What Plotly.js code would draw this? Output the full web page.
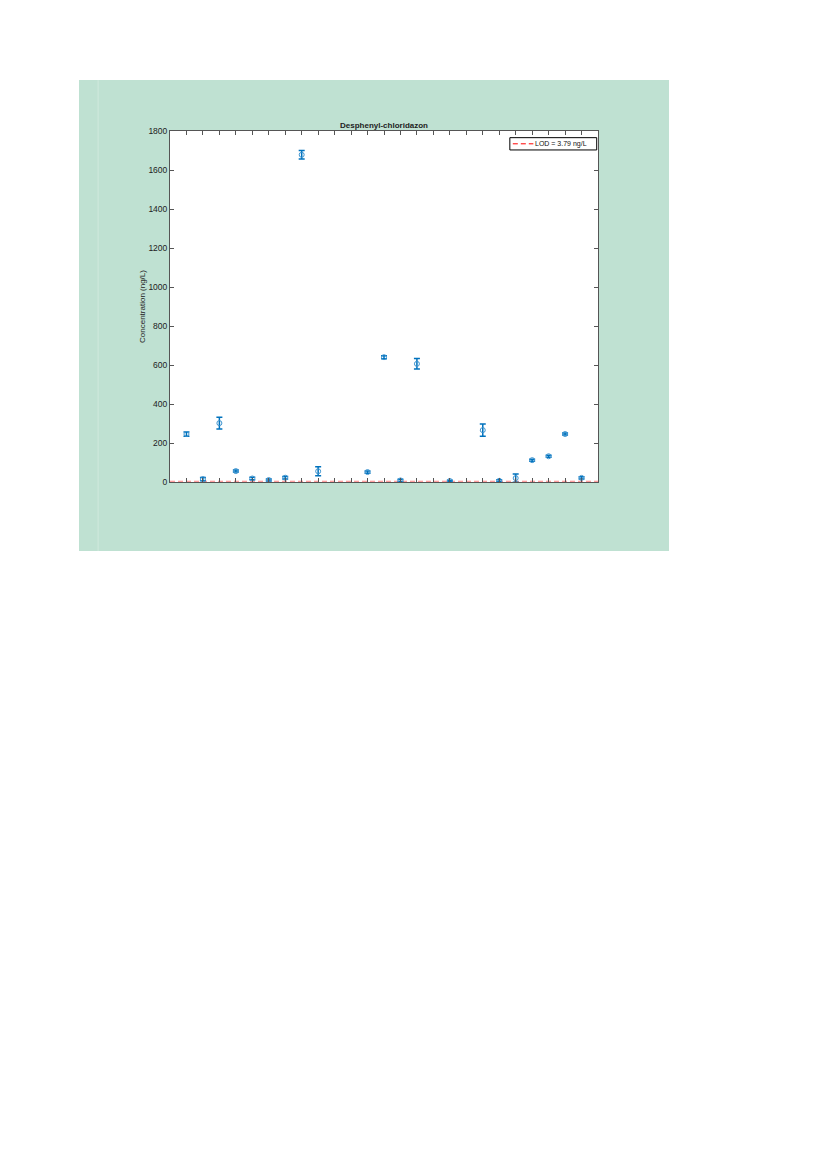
<!DOCTYPE html>
<html>
<head>
<meta charset="utf-8">
<script src="https://cdn.plot.ly/plotly-3.0.1.min.js"></script>
<style>
html,body{margin:0;padding:0;background:#fff;width:827px;height:1169px;overflow:hidden;}
#wrap{position:absolute;left:79px;top:80px;width:590px;height:471px;}
</style>
</head>
<body>
<div id="wrap"></div>
<script>
// Sample positions (1..25) and measured concentrations (ng/L)
const samples = [1,2,3,4,5,6,7,8,9,10,11,12,13,14,15,16,17,18,19,20,21,22,23,24,25];
const concentration = [246, 15, 302, 56, 18, 10, 22, 1678, 55, null, null, 51, 640, 8, 606, null, 5, null, 266, 6, 20, 112, 132, 246, 21];
const errorHalf = [11, 8, 30, 5, 6, 5, 6, 22, 23, null, null, 6, 8, 6, 27, null, 4, null, 31, 5, 21, 5, 5, 5, 6];
const lodValue = 3.79;
const lodLabel = 'LOD = 3.79 ng/L';
const xRange = [0, 26];
const yTicks = [0, 200, 400, 600, 800, 1000, 1200, 1400, 1600, 1800];

const blue = '#0072BD';
const traces = [
  {
    x: xRange, y: [lodValue, lodValue], type: 'scatter', mode: 'lines',
    line: {color: '#ff3030', width: 1, dash: '5px,3px'},
    name: lodLabel, showlegend: false, opacity: 0.6
  },
  {
    x: samples, y: concentration, type: 'scatter', mode: 'markers',
    marker: {symbol: 'circle-open', size: 5, color: '#3d94d0', line: {width: 1, color: '#3d94d0'}},
    error_y: {type: 'data', array: errorHalf, visible: true, color: blue, thickness: 1.5, width: 3},
    showlegend: false, hoverinfo: 'x+y'
  }
];

const layout = {
  width: 590, height: 471,
  paper_bgcolor: '#bfe1d2', plot_bgcolor: '#ffffff',
  margin: {l: 91, r: 71, t: 51, b: 69, pad: 0},
  font: {family: '"Liberation Sans", Arial, sans-serif', size: 8, color: '#222'},
  title: {text: '<b>Desphenyl-chloridazon</b>', font: {size: 8, color: '#222'}, x: 0.5, xref: 'paper', xanchor: 'center', y: 1, yref: 'paper', yanchor: 'bottom', pad: {b: 3}},
  xaxis: {
    range: xRange, tickmode: 'array', tickvals: samples, ticktext: samples.map(() => ''),
    ticks: 'inside', ticklen: 4, tickcolor: '#555', tickwidth: 1,
    showline: true, linecolor: '#555', linewidth: 1, mirror: 'ticks',
    showgrid: false, zeroline: false, fixedrange: true
  },
  yaxis: {
    range: [0, 1800], tickmode: 'array', tickvals: yTicks,
    ticks: 'inside', ticklen: 4, tickcolor: '#555', tickwidth: 1,
    showline: true, linecolor: '#555', linewidth: 1, mirror: 'ticks',
    showgrid: false, zeroline: false,
    title: {text: 'Concentration (ng/L)', font: {size: 8, color: '#222'}, standoff: 1},
    tickfont: {size: 8.5, color: '#222'}
  },
  showlegend: false,
  shapes: [
    {type: 'line', xref: 'paper', yref: 'paper', x0: -0.168, x1: -0.168, y0: -0.197, y1: 1.145, line: {color: '#d0e9dd', width: 1}},
    // legend box
    {type: 'rect', xref: 'paper', yref: 'paper', x0: 0.794, x1: 0.997, y0: 0.946, y1: 0.981, fillcolor: '#ffffff', line: {color: '#000', width: 1}},
    {type: 'line', xref: 'paper', yref: 'paper', x0: 0.801, x1: 0.849, y0: 0.9635, y1: 0.9635, line: {color: '#ff0000', width: 1, dash: '5px,3px'}}
  ],
  annotations: [
    {xref: 'paper', yref: 'paper', x: 0.849, y: 0.9635, xanchor: 'left', yanchor: 'middle', showarrow: false, text: lodLabel, font: {size: 7, color: '#111'}}
  ]
};

Plotly.newPlot('wrap', traces, layout, {displayModeBar: false, staticPlot: true});
</script>
</body>
</html>
